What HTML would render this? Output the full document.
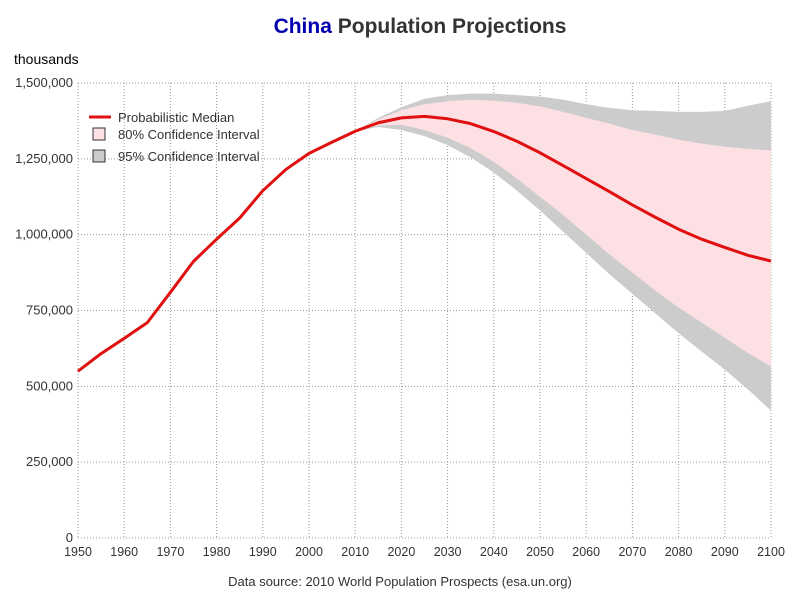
<!DOCTYPE html>
<html><head><meta charset="utf-8"><style>
body{margin:0;background:#fff;}
svg{display:block;font-family:"Liberation Sans",Arial,sans-serif;}
</style></head><body>
<svg id="chart" width="800" height="600">
<text x="420" y="33" text-anchor="middle" font-size="21" font-weight="bold" fill="#333"><tspan fill="#0000b0">China</tspan> Population Projections</text>
<text x="14" y="64" font-size="14" fill="#000">thousands</text>
<text x="400" y="586" text-anchor="middle" font-size="13" fill="#333">Data source: 2010 World Population Prospects (esa.un.org)</text>
<g id="grid"></g>
<g id="bands"></g>
<g id="lines"></g>
<g id="axes"></g>
<g>
<line x1="89" y1="117" x2="111" y2="117" stroke="#e01010" stroke-width="3"/>
<text x="118" y="122" font-size="13" fill="#333">Probabilistic Median</text>
<rect x="93" y="128" width="12" height="12" fill="#fde0e4" stroke="#333"/>
<text x="118" y="139" font-size="13" fill="#333">80% Confidence Interval</text>
<rect x="93" y="150" width="12" height="12" fill="#cccccc" stroke="#333"/>
<text x="118" y="161" font-size="13" fill="#333">95% Confidence Interval</text>
</g>
</svg>
<script>
const years=[1950,1955,1960,1965,1970,1975,1980,1985,1990,1995,2000,2005,2010,2015,2020,2025,2030,2035,2040,2045,2050,2055,2060,2065,2070,2075,2080,2085,2090,2095,2100];
const median=[550,608,658,710,810,912,985,1055,1145,1215,1268,1305,1341,1369,1385,1390,1382,1366,1340,1308,1270,1228,1185,1142,1098,1057,1018,985,958,932,913];
const projYears=[2010,2015,2020,2025,2030,2035,2040,2045,2050,2055,2060,2065,2070,2075,2080,2085,2090,2095,2100];
const upper80=[1341,1380,1410,1430,1440,1445,1442,1435,1423,1405,1385,1366,1345,1330,1313,1300,1290,1283,1278];
const lower80=[1341,1360,1362,1345,1320,1285,1240,1185,1125,1065,1000,935,875,815,760,710,660,610,565];
const upper95=[1341,1385,1420,1448,1460,1465,1465,1460,1455,1445,1430,1418,1410,1408,1405,1405,1408,1425,1440];
const lower95=[1341,1355,1345,1325,1295,1255,1205,1145,1080,1010,940,870,805,740,675,615,555,490,420];
const xTicks=[1950,1960,1970,1980,1990,2000,2010,2020,2030,2040,2050,2060,2070,2080,2090,2100];
const yTicks=[0,250,500,750,1000,1250,1500];
const yTickLabels=["0","250,000","500,000","750,000","1,000,000","1,250,000","1,500,000"];
const X0=78,X1=771,Y0=538,Y1=83;
const xs=v=>X0+(v-1950)/150*(X1-X0);
const ys=v=>Y0-v/1500*(Y0-Y1);
const NS="http://www.w3.org/2000/svg";
function mk(tag,attrs,parent){const e=document.createElementNS(NS,tag);for(const k in attrs)e.setAttribute(k,attrs[k]);document.getElementById(parent).appendChild(e);return e;}
xTicks.forEach(t=>{
 const l=mk('line',{x1:xs(t),x2:xs(t),y1:Y1,y2:Y0,stroke:'#999','stroke-dasharray':'1,2'},'grid');
 
 
 const tx=mk('text',{x:xs(t),y:Y0+18,'text-anchor':'middle','font-size':12.5,fill:'#333'},'axes');
 tx.textContent=t;
 
 
});
yTicks.forEach((t,i)=>{
 const l=mk('line',{x1:X0,x2:X1,y1:ys(t),y2:ys(t),stroke:'#999','stroke-dasharray':'1,2'},'grid');
 
 
 const tx=mk('text',{x:X0-5,y:ys(t)+4,'text-anchor':'end','font-size':13,fill:'#333'},'axes');
 tx.textContent=yTickLabels[i];
 
 
});
function band(up,lo,fill,name){
 let d=projYears.map((y,i)=>(i?'L':'M')+xs(y)+','+ys(up[i])).join(' ');
 for(let i=projYears.length-1;i>=0;i--)d+=' L'+xs(projYears[i])+','+ys(lo[i]);
 const p=mk('path',{d:d+'Z',fill:fill},'bands');
 
 
}
band(upper95,lower95,'#cccccc','band-95');
band(upper80,lower80,'#fde0e4','band-80');
const ml=mk('polyline',{points:years.map((y,i)=>xs(y)+','+ys(median[i])).join(' '),fill:'none',stroke:'#e01010','stroke-width':3,'stroke-linejoin':'round'},'lines');


</script>
</body></html>
